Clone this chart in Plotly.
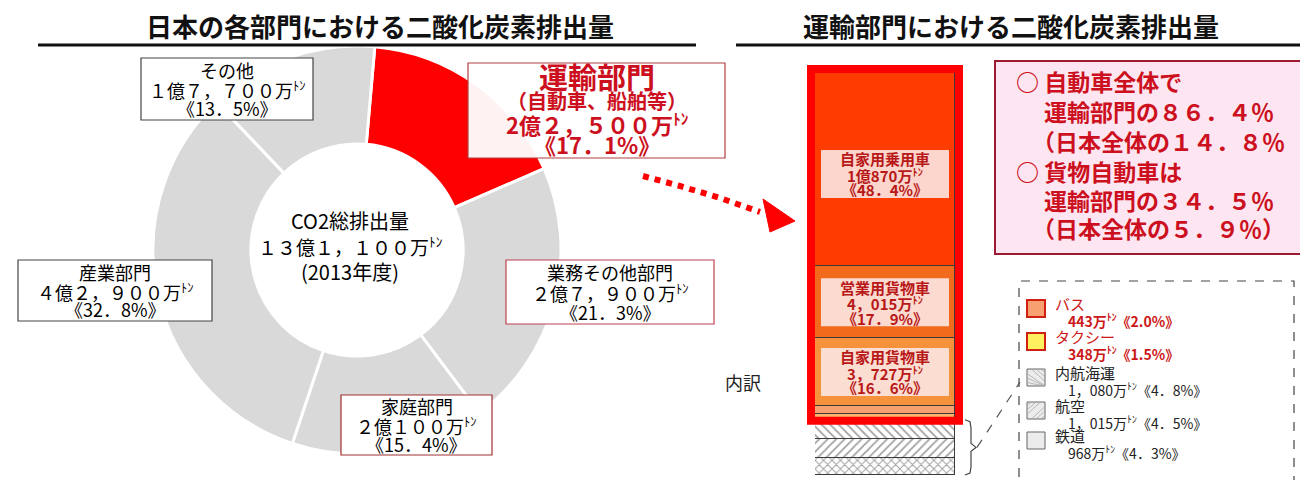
import plotly.graph_objects as go

W, H = 1308, 480
FONT = "Noto Sans CJK JP"
RED_TXT = "#cc1020"


def px(x):
    return x / W


def py(y):
    return 1 - y / H


# ---------------- data ----------------
sectors = ["運輸部門", "業務その他部門", "家庭部門", "産業部門", "その他"]
sector_share = [17.1, 21.3, 15.4, 32.8, 13.5]
sector_amount = ["２億２，５００万", "２億７，９００万", "２億１００万", "４億２，９００万", "１億７，７００万"]
sector_colors = ["#ff0000", "#d9d9d9", "#d9d9d9", "#d9d9d9", "#d9d9d9"]
total_label = "１３億１，１００万"
year_label = "(2013年度)"

# transport breakdown, bottom to top (万トン)
modes = ["鉄道", "航空", "内航海運", "タクシー", "バス", "自家用貨物車", "営業用貨物車", "自家用乗用車"]
mode_values = [968, 1015, 1080, 348, 443, 3727, 4015, 10870]
mode_share = [4.3, 4.5, 4.8, 1.5, 2.0, 16.6, 17.9, 48.4]
mode_amount = ["968万", "1，015万", "1，080万", "348万", "443万", "3，727万", "4，015万", "1億870万"]
mode_colors = ["white", "white", "white", "#fbb56a", "#f7a070", "#f7923c", "#f26a1b", "#ff3c00"]
mode_patterns = ["x", "/", "\\", "", "", "", "", ""]

car_share_transport = "８６．４"
car_share_japan = "１４．８"
truck_share_transport = "３４．５"
truck_share_japan = "５．９"

# ---------------- figure ----------------
fig = go.Figure()

fig.add_trace(go.Pie(
    labels=sectors, values=sector_share, sort=False, direction="clockwise",
    rotation=5, hole=0.52, textinfo="none", hoverinfo="skip", showlegend=False,
    marker=dict(colors=sector_colors, line=dict(color="white", width=3)),
    domain=dict(x=[px(145), px(553)], y=[py(446), py(38)]),
))

for name, v, c, pat in zip(modes, mode_values, mode_colors, mode_patterns):
    marker = dict(color=c, line=dict(color="#3a3a3a", width=1))
    if pat:
        marker["pattern"] = dict(shape=pat, fgcolor="#444444", bgcolor="white",
                                 size=6, solidity=0.3)
    fig.add_trace(go.Bar(x=[0], y=[v], width=[1], name=name, marker=marker,
                         showlegend=False, hoverinfo="skip"))

total = sum(mode_values)
hatched = sum(mode_values[:3])
Y0, Y1 = 467, 62  # pixel rows of bar bottom / top


def ypix(v):
    return Y0 - v / total * (Y0 - Y1)


shapes = []
ann = []


def text(x, y, s, size, color="black", bold=False, xanchor="center", **kw):
    ann.append(dict(x=px(x), y=py(y), xref="paper", yref="paper", text=s,
                    showarrow=False, xanchor=xanchor, yanchor="middle",
                    font=dict(family=FONT, size=size, color=color,
                              weight="bold" if bold else "normal"), **kw))


def rect(x0, y0, x1, y1, line="#333", width=1, fill="white", dash="solid"):
    shapes.append(dict(type="rect", xref="paper", yref="paper",
                       x0=px(x0), x1=px(x1), y0=py(y1), y1=py(y0),
                       line=dict(color=line, width=width, dash=dash),
                       fillcolor=fill))


def path(points, color, width, dash="solid", fill=None, closed=False):
    d = "M " + " L ".join(f"{px(a):.5f},{py(b):.5f}" for a, b in points)
    if closed:
        d += " Z"
    s = dict(type="path", xref="paper", yref="paper", path=d,
             line=dict(color=color, width=width, dash=dash))
    if fill:
        s["fillcolor"] = fill
    shapes.append(s)


def pct(v):
    return f"{v:.1f}".replace(".", "．")


# titles and underlines
text(372, 18, "日本の各部門における二酸化炭素排出量", 26, "#111", True)
text(1003, 18, "運輸部門における二酸化炭素排出量", 26, "#111", True)
path([(30, 37), (688, 37)], "#111", 3)
path([(728, 37), (1308, 37)], "#111", 3)

# donut labels
TON = "<sup>ﾄﾝ</sup>"


def gray_box(x0, y0, x1, y1, idx, border="#444"):
    rect(x0, y0, x1, y1, line=border, width=1.2)
    cx = (x0 + x1) / 2
    h = (y1 - y0)
    text(cx, y0 + h * 0.19, sectors[idx], 18)
    text(cx, y0 + h * 0.5, sector_amount[idx] + TON, 18)
    text(cx, y0 + h * 0.81, f"《{pct(sector_share[idx])}%》", 18)


gray_box(133, 50, 305, 112, 4)
gray_box(10, 252, 204, 313, 3)
gray_box(498, 252, 706, 316, 1, border="#c04050")
gray_box(333, 387, 484, 447, 2, border="#a03030")

# transport label
rect(460, 55, 717, 150, line="#b04040", width=1.2, fill="rgba(255,255,255,0.95)")
text(589, 68, sectors[0], 29, RED_TXT, True)
text(589, 93, "（自動車、船舶等）", 20, RED_TXT, True)
text(589, 115, sector_amount[0].replace("２億", "2億") + TON, 22, RED_TXT, True)
text(589, 136, f"《{pct(sector_share[0])}%》", 22, RED_TXT, True)

# centre text
text(342, 212, "CO2総排出量", 20)
text(342, 238, total_label + TON, 19)
text(342, 263, year_label, 20)

# dotted arrow
path([(635, 168), (672, 178), (712, 190), (752, 204)], "#ff0000", 6, dash="dot")
path([(755, 191), (762, 224), (787, 213)], "#ff0000", 1, fill="#ff0000", closed=True)

# red frame around road vehicles
rect(803, ypix(total) - 1, 951, ypix(hatched) + 1, line="#ff0000", width=8,
     fill="rgba(0,0,0,0)")

# segment labels on the bar (boxes + individual lines)
for i in (7, 6, 5):
    yc = ypix(sum(mode_values[:i]) + mode_values[i] / 2)
    if i == 7:
        yc += 6
    rect(813, yc - 24, 941, yc + 24, line="rgba(0,0,0,0)", width=0,
         fill="rgba(252,228,222,0.92)")
    text(877, yc - 15, modes[i], 15, "#b81818", True)
    text(877, yc + 1, f"{mode_amount[i]}{TON}", 15, "#b81818", True)
    text(877, yc + 16, f"《{pct(mode_share[i])}%》", 15, "#b81818", True)

# 内訳
text(735, 374, "内訳", 18, "#222")

# brace
yt, yb = ypix(hatched), ypix(0)
ym = (yt + yb) / 2
path([(957, yt), (962, yt + 2), (963, yt + 8), (963, ym - 4), (968, ym),
      (963, ym + 4), (963, yb - 8), (962, yb - 2), (957, yb)], "#444", 1.2)
path([(969, ym), (1012, 374)], "#555", 1.2, dash="dash")

# callout box
rect(987, 53, 1318, 246, line="#9c1a32", width=2, fill="#fde6f1")
path([(1295, 246), (1300, 238), (1308, 230)], "#9c1a32", 1.5)
text(1006, 73, "○ 自動車全体で", 23, RED_TXT, True, xanchor="left")
text(1034, 103, f"運輸部門の{car_share_transport}％", 23, RED_TXT, True, xanchor="left")
text(1022, 133, f"（日本全体の{car_share_japan}％", 23, RED_TXT, True, xanchor="left")
text(1006, 163, "○ 貨物自動車は", 23, RED_TXT, True, xanchor="left")
text(1034, 192, f"運輸部門の{truck_share_transport}％", 23, RED_TXT, True, xanchor="left")
text(1022, 220, f"（日本全体の{truck_share_japan}％）", 23, RED_TXT, True, xanchor="left")

# legend box
rect(1011, 273, 1286, 490, line="#444", width=1.2, fill="rgba(0,0,0,0)", dash="dash")
legend_rows = [(4, 292), (3, 325), (2, 361), (1, 394), (0, 424)]
for i, ytop in legend_rows:
    x0, x1, y0, y1 = 1019, 1037, ytop, ytop + 17
    if i >= 3:
        rect(x0, y0, x1, y1, line="#d02010", width=2,
             fill=mode_colors[i] if i == 4 else "#fff060")
        col, bold = "#cc1818", True
    else:
        rect(x0, y0, x1, y1, line="#666", width=1, fill="#ececec")
        if mode_patterns[i] == "\\":
            for k in range(1, 4):
                path([(x0, y0 + k * 4.5), (x1 - (17 - k * 4.5) * 0, y1)], "#aaa", 0.8)
                path([(x0 + k * 4.5, y0), (x1, y1 - k * 4.5)], "#aaa", 0.8)
        elif mode_patterns[i] == "/":
            for k in range(1, 4):
                path([(x0, y1 - k * 4.5), (x1 - k * 4.5, y0)], "#aaa", 0.8)
                path([(x0 + k * 4.5, y1), (x1, y0 + k * 4.5)], "#aaa", 0.8)
        col, bold = "#222", False
    text(1045, ytop + 3, modes[i], 15, col, False, xanchor="left")
    share = pct(mode_share[i]) if i < 3 else f"{mode_share[i]:.1f}"
    text(1058, ytop + 20, f"{mode_amount[i]}{TON}《{share}%》", 14, col, bold,
         xanchor="left")

fig.update_layout(
    width=W, height=H, margin=dict(l=0, r=0, t=0, b=0),
    paper_bgcolor="white", plot_bgcolor="rgba(0,0,0,0)",
    barmode="stack", bargap=0, showlegend=False,
    xaxis=dict(domain=[px(807), px(947)], range=[-0.5, 0.5], visible=False, fixedrange=True),
    yaxis=dict(domain=[py(Y0), py(Y1)], range=[0, total], visible=False, fixedrange=True),
    shapes=shapes, annotations=ann,
    font=dict(family=FONT),
)

fig.write_html("out.html")
